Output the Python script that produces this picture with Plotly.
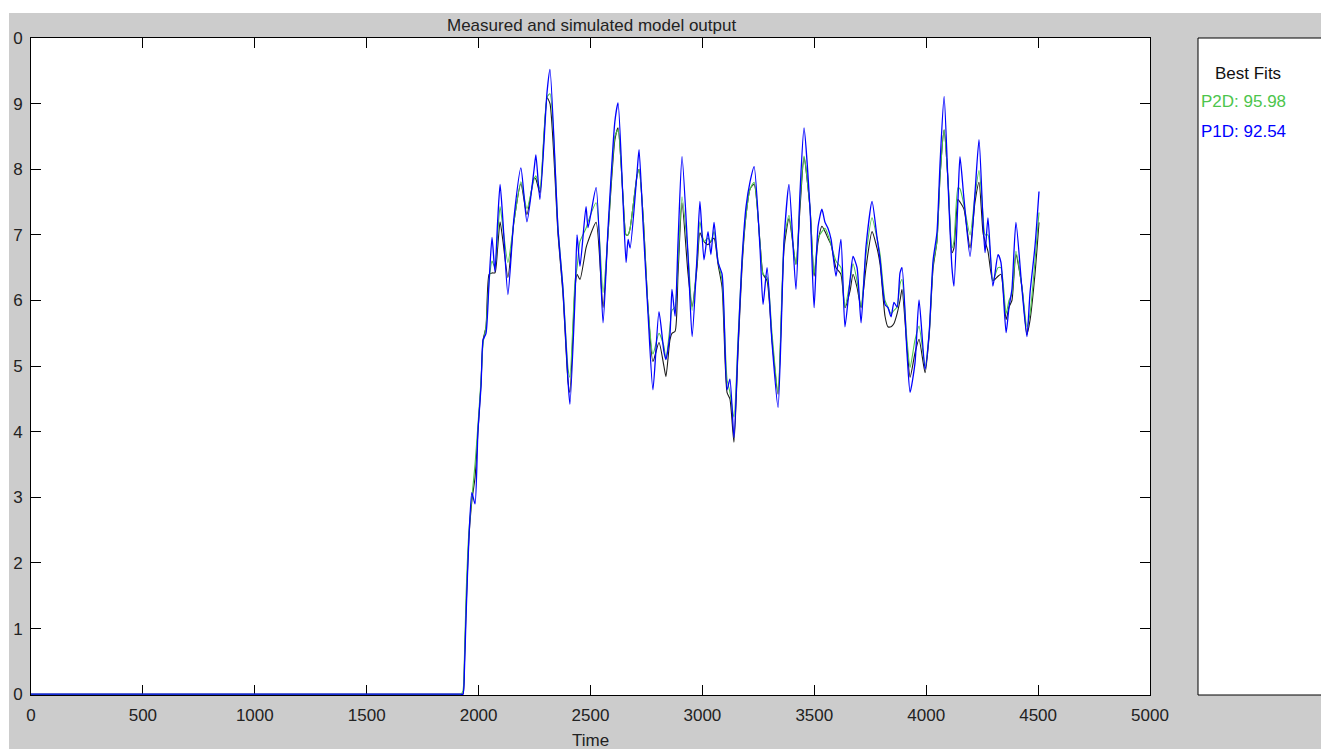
import plotly.graph_objects as go

# ---- data ----
time = [0, 1000, 1800, 1900, 1920, 1930, 1937, 1944, 1957, 1970, 1984, 1997, 2011, 2020, 2033, 2047, 2060, 2073, 2085, 2096,
        2109, 2131, 2158, 2189, 2216, 2248, 2256, 2274, 2306, 2319, 2355, 2377, 2400, 2408,
        2431, 2440, 2453, 2480, 2489, 2525, 2556, 2578, 2609, 2623, 2645, 2659, 2668, 2677,
        2708, 2717, 2735, 2757, 2779, 2806, 2828, 2837, 2855, 2864, 2878, 2891, 2909, 2936,
        2954, 2976, 2989, 3007, 3025, 3038, 3052, 3070, 3088, 3110, 3123, 3141, 3159, 3177,
        3195, 3213, 3231, 3257, 3271, 3289, 3311, 3338, 3365, 3387, 3418, 3436, 3454, 3481,
        3499, 3517, 3534, 3548, 3561, 3575, 3597, 3619, 3637, 3660, 3673, 3691, 3709, 3731,
        3758, 3780, 3794, 3816, 3829, 3843, 3856, 3870, 3883, 3892, 3914, 3928, 3950, 3968,
        3995, 4013, 4031, 4048, 4062, 4080, 4098, 4115, 4124, 4142, 4151, 4169, 4196, 4218,
        4236, 4254, 4263, 4276, 4298, 4321, 4334, 4357, 4370, 4383, 4401, 4428, 4450, 4464,
        4486, 4504]

p1d = [0, 0, 0, 0, 0, 0, 0.4, 1.2, 2.4, 3.07, 2.9, 4.0, 4.7, 5.4, 5.5, 6.3, 6.96, 6.44, 7.2, 7.77,
       7.2, 6.09, 7.26, 8.02, 7.2, 8.0, 8.22, 7.54, 9.18, 9.52, 7.08, 6.17, 4.75, 4.42,
       6.05, 7.0, 6.52, 7.43, 7.11, 7.72, 5.66, 7.08, 8.73, 9.01, 7.54, 6.58, 6.93, 6.8,
       7.95, 8.30, 7.16, 5.8, 4.64, 5.83, 5.22, 5.1, 5.48, 6.17, 5.76, 6.88, 8.19, 6.67,
       5.45, 6.67, 7.51, 6.62, 7.05, 6.7, 7.19, 6.58, 6.4, 4.64, 4.8, 3.91, 5.3, 6.62,
       7.43, 7.81, 8.04, 6.82, 5.94, 6.5, 5.36, 4.37, 6.93, 7.77, 6.17, 7.64, 8.63, 7.39,
       5.89, 7.13, 7.39, 7.19, 7.1, 6.93, 6.37, 6.93, 5.6, 6.32, 6.67, 6.5, 5.66, 6.82,
       7.51, 6.97, 6.62, 5.94, 5.89, 5.75, 5.97, 5.9, 6.42, 6.5, 5.21, 4.6, 5.05, 6.01,
       4.95, 5.5, 6.62, 7.03, 8.1, 9.11, 7.74, 6.5, 6.22, 7.54, 8.19, 7.54, 6.67, 7.64,
       8.45, 7.2, 6.73, 7.26, 6.22, 6.7, 6.58, 5.51, 5.9, 6.17, 7.19, 6.17, 5.45, 6.12,
       6.82, 7.66]

p2d = [0, 0, 0, 0, 0, 0.05, 0.6, 1.5, 2.5, 3.0, 3.5, 4.1, 4.8, 5.35, 5.6, 6.3, 6.6, 6.5, 7.0, 7.43,
       7.1, 6.58, 7.2, 7.81, 7.4, 7.85, 7.9, 7.7, 9.1, 9.15, 7.1, 6.2, 4.95, 4.83,
       6.3, 6.5, 6.9, 7.1, 7.2, 7.49, 6.12, 7.0, 8.5, 8.6, 7.6, 7.0, 7.0, 7.1,
       7.9, 8.0, 7.3, 5.9, 5.18, 5.5, 5.3, 5.1, 5.6, 5.85, 5.9, 6.6, 7.58, 6.7,
       5.85, 6.6, 7.2, 6.9, 6.95, 6.9, 7.05, 6.6, 6.3, 4.8, 4.6, 4.22, 5.4, 6.6,
       7.3, 7.7, 7.8, 6.9, 6.4, 6.35, 5.5, 4.6, 6.9, 7.3, 6.55, 7.5, 8.2, 7.4,
       6.4, 6.95, 7.05, 7.1, 7.0, 6.85, 6.6, 6.5, 5.9, 6.3, 6.56, 6.3, 5.9, 6.7,
       7.26, 6.95, 6.7, 6.0, 5.9, 5.8, 5.85, 5.9, 6.25, 6.32, 5.4, 4.98, 5.4, 5.61,
       5.0, 5.5, 6.55, 6.9, 7.9, 8.6, 7.8, 6.8, 6.9, 7.72, 7.7, 7.45, 7.0, 7.6,
       7.98, 7.3, 7.0, 7.0, 6.3, 6.5, 6.5, 5.8, 6.0, 6.1, 6.75, 6.2, 5.6, 5.8,
       6.6, 7.34]

measured = [0, 0, 0, 0, 0, 0, 0.5, 1.3, 2.4, 2.95, 3.3, 4.0, 4.75, 5.4, 5.6, 6.4, 6.42, 6.42, 6.8, 7.2,
            6.9, 6.35, 7.2, 7.78, 7.31, 7.87, 7.85, 7.64, 9.09, 9.0, 7.0, 6.1, 4.75, 4.6,
            6.2, 6.4, 6.32, 6.8, 6.9, 7.19, 5.89, 7.0, 8.45, 8.63, 7.6, 7.0, 7.0, 7.1,
            7.9, 8.0, 7.3, 5.9, 5.07, 5.36, 5.0, 4.84, 5.4, 5.5, 5.53, 6.4, 7.49, 6.4,
            5.91, 6.5, 7.03, 6.9, 6.85, 6.9, 6.95, 6.55, 6.2, 4.6, 4.5, 3.84, 5.2, 6.5,
            7.3, 7.7, 7.77, 6.9, 6.4, 6.3, 5.4, 4.57, 6.8, 7.25, 6.55, 7.4, 8.18, 7.4,
            6.37, 6.9, 7.13, 7.05, 6.95, 6.85, 6.5, 6.4, 5.89, 6.15, 6.4, 6.2, 5.89, 6.5,
            7.05, 6.8, 6.55, 5.76, 5.6, 5.6, 5.65, 5.8, 6.0, 6.17, 5.3, 4.83, 5.2, 5.41,
            4.9, 5.45, 6.5, 6.9, 7.9, 8.6, 7.8, 6.73, 6.8, 7.54, 7.5, 7.39, 6.8, 7.5,
            7.8, 7.03, 6.9, 6.75, 6.3, 6.37, 6.4, 5.71, 5.9, 6.0, 6.7, 6.2, 5.48, 5.7,
            6.4, 7.19]

x_ticks = [0, 500, 1000, 1500, 2000, 2500, 3000, 3500, 4000, 4500, 5000]
y_ticks = [0, 1, 2, 3, 4, 5, 6, 7, 8, 9, 10]
y_tick_text = ["0", "1", "2", "3", "4", "5", "6", "7", "8", "9", "0"]

title_text = "Measured and simulated model output"
x_title = "Time"
fits_title = "Best Fits"
fit_labels = ["P2D: 95.98", "P1D: 92.54"]

GREEN = "#4cc54c"
BLUE = "#0000ff"
BLACK = "#1a1a1a"
GRAY = "#cccccc"
FONT = "Liberation Sans, Arial, sans-serif"
FS = 17

W, H = 1321, 749


def fx(px):
    return px / W


def fy(py):
    return 1 - py / H


fig = go.Figure()
fig.add_trace(go.Scatter(x=time, y=measured, mode="lines", name="Measured",
                         line=dict(color=BLACK, width=1.1, shape="spline", smoothing=0.6)))
fig.add_trace(go.Scatter(x=time, y=p2d, mode="lines", name="P2D",
                         line=dict(color=GREEN, width=1.1, shape="spline", smoothing=0.6)))
fig.add_trace(go.Scatter(x=time, y=p1d, mode="lines", name="P1D",
                         line=dict(color=BLUE, width=1.3, shape="spline", smoothing=0.6)))

axis_common = dict(showline=True, linecolor="#000000", linewidth=1, mirror="ticks",
                   ticks="inside", ticklen=10, tickwidth=1, tickcolor="#000000",
                   showgrid=False, zeroline=False, automargin=False, layer="below traces",
                   tickfont=dict(family=FONT, size=FS, color="#222222"))

fig.update_layout(
    width=W, height=H,
    margin=dict(l=0, r=0, t=0, b=0, pad=0, autoexpand=False),
    paper_bgcolor=GRAY,
    plot_bgcolor="#ffffff",
    showlegend=False,
    xaxis=dict(domain=[fx(31), fx(1150)], range=[0, 5000], tickmode="array",
               tickvals=x_ticks, ticktext=[str(v) for v in x_ticks],
               ticklabelstandoff=5, **axis_common),
    yaxis=dict(domain=[fy(695), fy(38)], range=[-0.012, 10], tickmode="array",
               tickvals=y_ticks, ticktext=y_tick_text, ticklabelstandoff=4,
               **axis_common),
    shapes=[
        # white strips at the top and left edges of the figure
        dict(type="rect", xref="paper", yref="paper", x0=-0.01, x1=1.01, y0=fy(13), y1=1.01,
             fillcolor="#ffffff", line=dict(width=0), layer="below"),
        dict(type="rect", xref="paper", yref="paper", x0=-0.01, x1=fx(9), y0=-0.01, y1=1.01,
             fillcolor="#ffffff", line=dict(width=0), layer="below"),
        # right-hand "Best Fits" panel
        dict(type="rect", xref="paper", yref="paper", x0=fx(1198), x1=1.05, y0=fy(695), y1=fy(38),
             fillcolor="#ffffff", line=dict(color="#000000", width=1), layer="below"),
    ],
    annotations=[
        dict(text=title_text, x=fx(591), y=fy(26), xref="paper", yref="paper",
             showarrow=False, xanchor="center", yanchor="middle",
             font=dict(family=FONT, size=FS, color="#222222")),
        dict(text=x_title, x=fx(590), y=fy(740), xref="paper", yref="paper",
             showarrow=False, xanchor="center", yanchor="middle",
             font=dict(family=FONT, size=FS, color="#222222")),
        dict(text=fits_title, x=fx(1248), y=fy(73), xref="paper", yref="paper",
             showarrow=False, xanchor="center", yanchor="middle",
             font=dict(family=FONT, size=FS, color="#111111")),
        dict(text=fit_labels[0], x=fx(1199), y=fy(102), xref="paper", yref="paper",
             showarrow=False, xanchor="left", yanchor="middle",
             font=dict(family=FONT, size=FS, color=GREEN)),
        dict(text=fit_labels[1], x=fx(1199), y=fy(131), xref="paper", yref="paper",
             showarrow=False, xanchor="left", yanchor="middle",
             font=dict(family=FONT, size=FS, color=BLUE)),
    ],
)

fig.write_html("out.html")
